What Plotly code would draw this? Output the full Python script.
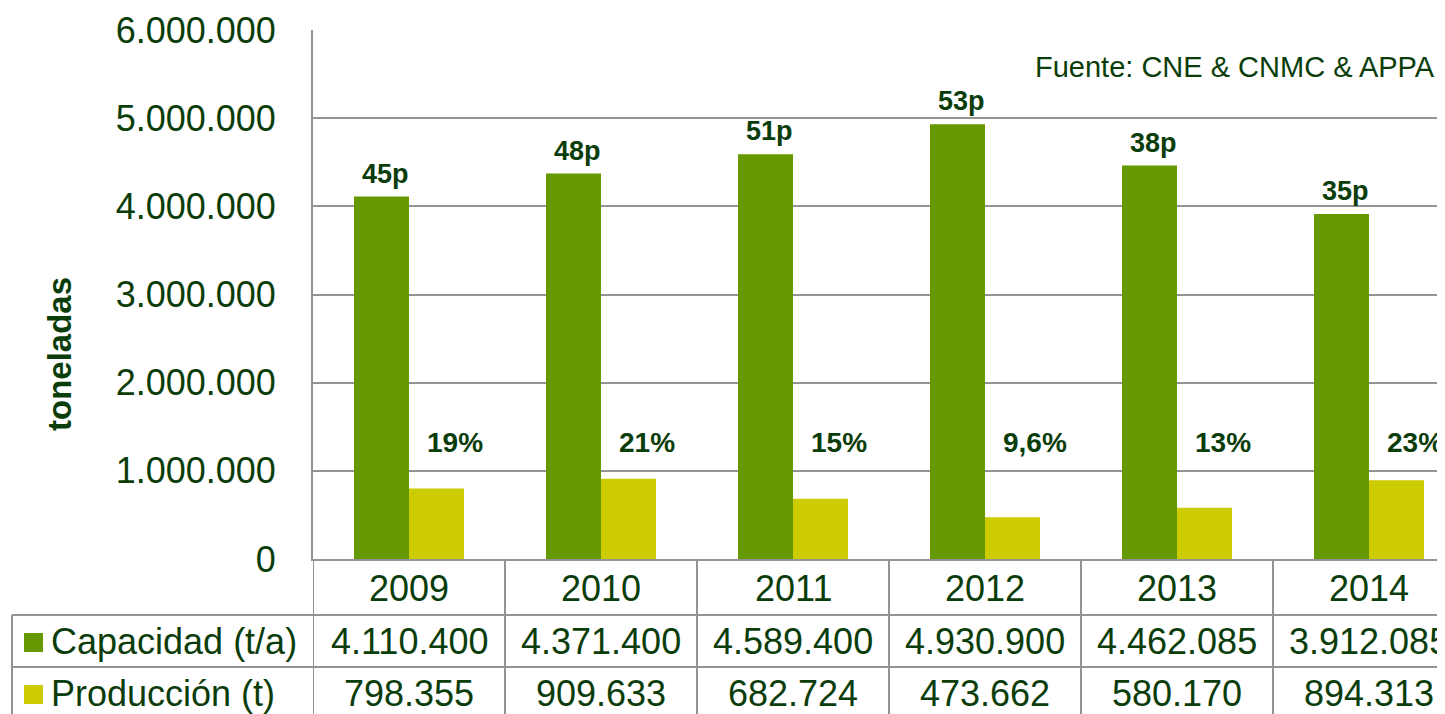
import plotly.graph_objects as go

years = ["2009", "2010", "2011", "2012", "2013", "2014"]
capacidad = [4110400, 4371400, 4589400, 4930900, 4462085, 3912085]
produccion = [798355, 909633, 682724, 473662, 580170, 894313]
plantas = ["45p", "48p", "51p", "53p", "38p", "35p"]
porcentaje = ["19%", "21%", "15%", "9,6%", "13%", "23%"]
cap_txt = ["4.110.400", "4.371.400", "4.589.400", "4.930.900", "4.462.085", "3.912.085"]
prod_txt = ["798.355", "909.633", "682.724", "473.662", "580.170", "894.313"]
series_names = ["Capacidad (t/a)", "Producción (t)"]

# the page body has an 8px margin, so work in reference pixels minus 8
OFF = 8
W, H = 1445 - OFF, 714 - OFF
ML = 313 - OFF
MT = 30 - OFF
BOTTOM = 559 - OFF
MB = H - BOTTOM
plot_w = W - ML
plot_h = BOTTOM - MT
cat_px = 192.0
bar_w = 55 / cat_px

DARK = "#0b3d0b"
GRID = "#939393"
C_CAP = "#669900"
C_PROD = "#cccc00"
FONT = "Liberation Sans, Arial, sans-serif"

xs = list(range(len(years)))

fig = go.Figure()
fig.add_trace(go.Bar(
    x=xs, y=capacidad, name=series_names[0], marker=dict(color=C_CAP, line=dict(width=0)),
    width=bar_w, offset=-bar_w,
))
fig.add_trace(go.Bar(
    x=xs, y=produccion, name=series_names[1], marker=dict(color=C_PROD, line=dict(width=0)),
    width=bar_w, offset=0,
))


def py(ref_pix):
    # reference pixel row -> paper y
    return (BOTTOM - (ref_pix - OFF)) / plot_h


def px(ref_pix):
    return ((ref_pix - OFF) - ML) / plot_w


shapes = []
ann = []

# plant-count labels above capacity bars
for i, t in enumerate(plantas):
    ann.append(dict(x=i - bar_w / 2, y=capacidad[i], xref="x", yref="y", text=f"<b>{t}</b>",
                    showarrow=False, xanchor="center", yanchor="bottom", yshift=6, xshift=4,
                    font=dict(size=27, color=DARK, family=FONT)))

# percentage labels
for i, t in enumerate(porcentaje):
    ann.append(dict(x=i, y=1.316e6, xref="x", yref="y", text=f"<b>{t}</b>", showarrow=False,
                    xanchor="left", yanchor="middle", xshift=16,
                    font=dict(size=28, color=DARK, family=FONT)))

# table vertical lines
for i in range(len(years) + 1):
    shapes.append(dict(type="line", xref="x", yref="paper", x0=i - 0.5, x1=i - 0.5,
                       y0=0, y1=py(730), line=dict(color=GRID, width=2)))
# table horizontal lines
for yy in (615, 667):
    shapes.append(dict(type="line", xref="paper", yref="paper", x0=px(12), x1=1.05,
                       y0=py(yy), y1=py(yy), line=dict(color=GRID, width=2)))
shapes.append(dict(type="line", xref="paper", yref="paper", x0=px(12), x1=px(12),
                   y0=py(615), y1=py(730), line=dict(color=GRID, width=2)))

# table text
rows = ((years, 588), (cap_txt, 641), (prod_txt, 693))
for vals, cy in rows:
    for i in xs:
        ann.append(dict(x=i, y=py(cy), xref="x", yref="paper", text=vals[i], showarrow=False,
                        xanchor="center", yanchor="middle",
                        font=dict(size=36, color=DARK, family=FONT)))

# legend keys in table
for name, col, cy in ((series_names[0], C_CAP, 641), (series_names[1], C_PROD, 693)):
    shapes.append(dict(type="rect", xref="paper", yref="paper", x0=px(24), x1=px(43),
                       y0=py(cy - 8), y1=py(cy + 11), fillcolor=col, line=dict(width=0)))
    ann.append(dict(x=px(49), y=py(cy), xref="paper", yref="paper", text=name, showarrow=False,
                    xanchor="left", yanchor="middle", font=dict(size=36, color=DARK, family=FONT)))

# y title
ann.append(dict(x=px(59), y=py(354), xref="paper", yref="paper", text="<b>toneladas</b>",
                showarrow=False, textangle=-90, xanchor="center", yanchor="middle",
                font=dict(size=33, color=DARK, family=FONT)))
# source
ann.append(dict(x=px(1437), y=py(67), xref="paper", yref="paper", text="Fuente: CNE & CNMC & APPA",
                showarrow=False, xanchor="right", yanchor="middle",
                font=dict(size=29, color=DARK, family=FONT)))

fig.update_layout(
    width=W, height=H, margin=dict(l=ML, r=0, t=MT, b=MB, pad=0),
    plot_bgcolor="white", paper_bgcolor="white", showlegend=False,
    separators=",.", barmode="overlay", font=dict(family=FONT, color=DARK),
    shapes=shapes, annotations=ann,
)
fig.update_xaxes(range=[-0.5, -0.5 + plot_w / cat_px], showticklabels=False, showgrid=False,
                 zeroline=False, showline=True, linecolor=GRID, linewidth=2, ticks="")
fig.update_yaxes(range=[0, 6e6], dtick=1e6, tickformat=",d", showgrid=True, gridcolor=GRID,
                 gridwidth=2, zeroline=False, showline=True, linecolor=GRID, linewidth=2,
                 ticks="", ticklabelstandoff=28, tickfont=dict(size=36, color=DARK, family=FONT))

fig.write_html("out.html")
